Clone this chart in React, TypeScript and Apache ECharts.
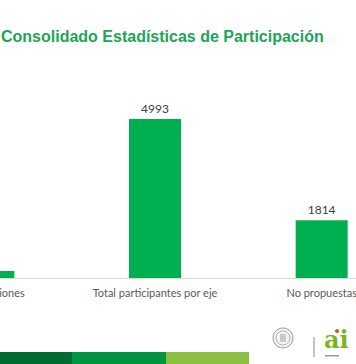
import React, { useEffect, useRef } from "react";
import * as echarts from "echarts";

const categories = ["Total opiniones", "Total participantes por eje", "No propuestas"];
const values = [220, 4993, 1814];
const titleText = "Consolidado Estadísticas de Participación";

const OFF = 95; // chart canvas is shifted left to crop the first category like the reference

export default function App() {
  const ref = useRef<HTMLDivElement>(null);
  useEffect(() => {
    if (!ref.current) return;
    const chart = echarts.init(ref.current, null, { renderer: "svg" });
    chart.setOption({
      animation: false,
      backgroundColor: "#ffffff",
      grid: { left: 0, right: 0, top: 87, bottom: 86, containLabel: false },
      xAxis: {
        type: "category",
        data: categories,
        axisLine: { show: true, lineStyle: { color: "#d9d9d9", width: 1 } },
        axisTick: { show: false },
        axisLabel: { color: "#595959", fontFamily: "Lato", fontSize: 11, margin: 9, interval: 0 },
      },
      yAxis: { type: "value", min: 0, max: 6000, show: false, splitLine: { show: false } },
      series: [
        {
          type: "bar",
          data: values,
          barWidth: 52,
          itemStyle: { color: "#00b050" },
          label: { show: true, position: "top", color: "#404040", fontFamily: "Lato", fontSize: 12, distance: 5 },
        },
      ],
      graphic: [
        {
          type: "text",
          left: OFF + 1,
          top: 28,
          style: { text: titleText, fill: "#1ea456", font: "bold 16px 'Liberation Sans', Arial, sans-serif" },
        },
        { type: "rect", shape: { x: OFF + 0, y: 352, width: 72, height: 12 }, style: { fill: "#006b31" } },
        { type: "rect", shape: { x: OFF + 72, y: 352, width: 94, height: 12 }, style: { fill: "#009640" } },
        { type: "rect", shape: { x: OFF + 166, y: 352, width: 83, height: 12 }, style: { fill: "#8cbf3f" } },
        { type: "circle", shape: { cx: OFF + 283, cy: 338, r: 10 }, style: { fill: "#f4f4f4", stroke: "#9a9a9a", lineWidth: 1 } },
        { type: "circle", shape: { cx: OFF + 283, cy: 338, r: 7 }, style: { fill: "none", stroke: "#b0b0b0", lineWidth: 1 } },
        { type: "rect", shape: { x: OFF + 280, y: 334, width: 6, height: 8 }, style: { fill: "#c8c8c8" } },
        { type: "line", shape: { x1: OFF + 314, y1: 337, x2: OFF + 314, y2: 357 }, style: { stroke: "#8a8a8a", lineWidth: 1 } },
        {
          type: "text",
          left: OFF + 324,
          top: 327,
          style: { text: "ai", fill: "#7ab51d", font: "bold 24px 'DejaVu Serif', serif" },
        },
        { type: "circle", shape: { cx: OFF + 337, cy: 331, r: 2 }, style: { fill: "#e2502a" } },
        { type: "rect", shape: { x: OFF + 325, y: 355, width: 14, height: 1.5 }, style: { fill: "#9a9a9a" } },
      ],
    });
    return () => chart.dispose();
  }, []);
  return (
    <div style={{ position: "fixed", left: 0, top: 0, width: 356, height: 364, overflow: "hidden", background: "#fff" }}>
      <div ref={ref} style={{ position: "absolute", left: -OFF, top: 0, width: 500, height: 364 }} />
    </div>
  );
}
